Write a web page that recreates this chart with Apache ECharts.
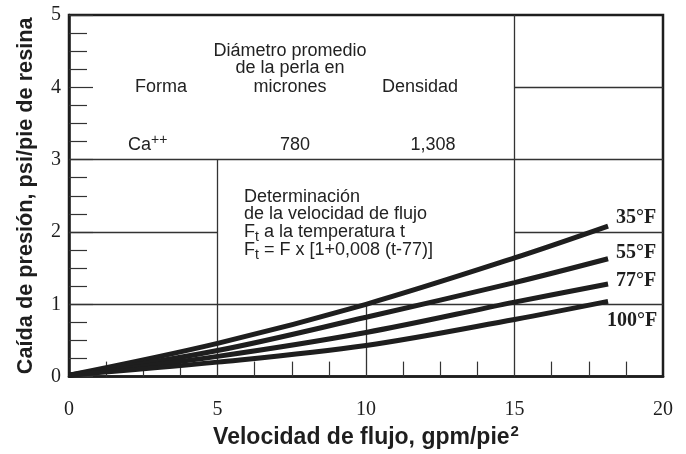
<!DOCTYPE html>
<html>
<head>
<meta charset="utf-8">
<script src="https://cdn.jsdelivr.net/npm/echarts@6/dist/echarts.min.js"></script>
<style>html,body{margin:0;padding:0;background:#fff}#c{width:686px;height:454px}</style>
</head>
<body>
<div id="c"></div>
<script>
// Data
const flow = [0, 5, 10, 15, 18.15];
const dp35 = [0.02, 0.46, 1.0, 1.64, 2.08];
const dp55 = [0.02, 0.36, 0.82, 1.30, 1.63];
const dp77 = [0.02, 0.28, 0.61, 1.03, 1.28];
const dp100 = [0.02, 0.20, 0.43, 0.79, 1.04];
const tempLabels = ['35°F', '55°F', '77°F', '100°F'];
const xTicks = [0, 5, 10, 15, 20];
const yTicks = [0, 1, 2, 3, 4, 5];

const chart = echarts.init(document.getElementById('c'), null, {renderer: 'canvas'});
const ink = '#1e1e1e';
const serif = 'Liberation Serif';
const sans = 'Liberation Sans';

function pts(ys) { return flow.map((x, i) => [x, ys[i]]); }

const labelOffsets = [[0, -8], [0, -6], [0, -3], [-9, 19]];
const curves = [dp35, dp55, dp77, dp100].map((ys, i) => ({
  type: 'line',
  data: pts(ys),
  smooth: 0.35,
  symbol: 'none',
  lineStyle: {color: ink, width: 5},
  z: 5,
  endLabel: {
    show: true,
    formatter: tempLabels[i],
    fontFamily: serif,
    fontWeight: 'bold',
    fontSize: 20,
    color: ink,
    offset: labelOffsets[i]
  }
}));

const seg = (x1, y1, x2, y2) => [{coord: [x1, y1]}, {coord: [x2, y2]}];
const gridSeries = {
  type: 'line',
  data: [],
  markLine: {
    silent: true,
    symbol: 'none',
    label: {show: false},
    lineStyle: {type: 'solid', color: '#333', width: 1.3},
    data: [
      seg(0, 1, 20, 1),
      seg(0, 2, 5, 2), seg(15, 2, 20, 2),
      seg(0, 3, 20, 3),
      seg(15, 4, 20, 4),
      seg(5, 0, 5, 3),
      seg(10, 0, 10, 1),
      seg(15, 0, 15, 5)
    ]
  }
};

const FS = 18;
function T(x, y, text, align) {
  return {type: 'text', x: x, y: y, z: 10,
    style: {text: text, textAlign: align || 'center', textVerticalAlign: 'middle',
      fontFamily: sans, fontSize: FS, fill: '#222'}};
}
function R(x, y, text) {
  return {type: 'text', x: x, y: y, z: 10,
    style: {text: text, rich: subRich, textAlign: 'left', textVerticalAlign: 'middle',
      fontFamily: sans, fontSize: FS, fill: '#222'}};
}
const subRich = {
  n: {fontFamily: sans, fontSize: FS, fill: '#222', color: '#222'},
  s: {fontFamily: sans, fontSize: 14, fill: '#222', color: '#222', padding: [10, 0, 0, 0]},
  p: {fontFamily: sans, fontSize: 14, fill: '#222', color: '#222', padding: [0, 0, 10, 0]}
};

chart.setOption({
  animation: false,
  grid: {left: 69, top: 15, right: 23, bottom: 71, show: true, borderColor: ink, borderWidth: 2.5},
  xAxis: {
    type: 'value', min: 0, max: 20, interval: 5,
    axisLine: {show: true, lineStyle: {color: ink, width: 2.5}},
    axisTick: {show: false, inside: true, length: 15},
    minorTick: {show: true, splitNumber: 4, length: 15, lineStyle: {color: '#333', width: 1.2}},
    splitLine: {show: false},
    axisLabel: {fontFamily: serif, fontSize: 20, color: ink, margin: 23},
    name: '{a|Velocidad de flujo, gpm/pie}{b|2}',
    nameLocation: 'middle', nameGap: 47,
    nameTextStyle: {
      rich: {
        a: {fontFamily: sans, fontWeight: 'bold', fontSize: 23, color: ink},
        b: {fontFamily: sans, fontWeight: 'bold', fontSize: 15, color: ink, padding: [0, 0, 11, 1]}
      }
    }
  },
  yAxis: {
    type: 'value', min: 0, max: 5, interval: 1,
    axisLine: {show: true, lineStyle: {color: ink, width: 2.5}},
    axisTick: {show: true, inside: true, length: 24, lineStyle: {color: '#333', width: 1.2}},
    minorTick: {show: true, splitNumber: 4, length: 18, lineStyle: {color: '#333', width: 1.2}},
    splitLine: {show: false},
    axisLabel: {fontFamily: serif, fontSize: 20, color: ink, margin: 8},
    name: 'Caída de presión, psi/pie de resina',
    nameLocation: 'middle', nameGap: 32,
    nameTextStyle: {fontFamily: sans, fontWeight: 'bold', fontSize: 21.7, color: ink}
  },
  series: [gridSeries].concat(curves),
  graphic: [
    T(290, 51, 'Diámetro promedio'),
    T(290, 68.5, 'de la perla en'),
    T(290, 87, 'micrones'),
    T(161, 87, 'Forma'),
    T(420, 87, 'Densidad'),
    R(128, 145, '{n|Ca}{p|++}'),
    T(295, 145, '780'),
    T(433, 145, '1,308'),
    T(244, 197, 'Determinación', 'left'),
    T(244, 214.5, 'de la velocidad de flujo', 'left'),
    R(244, 232, '{n|F}{s|t}{n| a la temperatura t}'),
    R(244, 250, '{n|F}{s|t}{n| = F x [1+0,008 (t-77)]}')
  ]
});
</script>
</body>
</html>
